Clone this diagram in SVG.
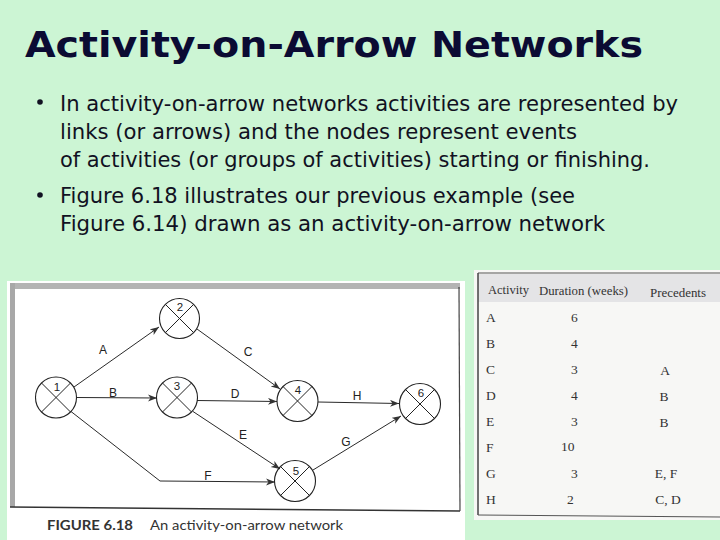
<svg xmlns="http://www.w3.org/2000/svg" width="720" height="540" viewBox="0 0 720 540">
<defs>
<style>
.title{font-family:"DejaVu Sans","Liberation Sans",sans-serif;font-weight:bold;font-size:36px;fill:#0b0b33}
.body{font-family:"DejaVu Sans","Liberation Sans",sans-serif;font-size:22px;fill:#111122}
.node circle{fill:none;stroke:#222;stroke-width:1.1}
.node line{stroke:#222;stroke-width:1}
.num{font-family:"Liberation Sans",Arial,sans-serif;font-size:11.5px;fill:#222;text-anchor:middle}
.edge{fill:none;stroke:#2a2a2a;stroke-width:1}
.elab{font-family:"Liberation Sans",Arial,sans-serif;font-size:12px;fill:#222;text-anchor:middle}
.cap{font-family:Lato,"Open Sans",sans-serif;fill:#333}
.tab{font-family:"Liberation Serif","Times New Roman",serif;font-size:13.5px;fill:#333}
</style>
<marker id="arr" markerWidth="10" markerHeight="8" refX="9" refY="3.5" orient="auto" markerUnits="userSpaceOnUse">
<path d="M0,0 L9,3.5 L0,7 L2.5,3.5 z" fill="#333"/>
</marker>
</defs>
<rect x="0" y="0" width="720" height="540" fill="#ccf5d4"/>

<text class="title" x="25" y="57" textLength="618" lengthAdjust="spacingAndGlyphs">Activity-on-Arrow Networks</text>

<g id="bullets">
<circle cx="40" cy="102" r="2.8" fill="#111122"/>
<text class="body" x="60" y="111" textLength="618" lengthAdjust="spacingAndGlyphs">In activity-on-arrow networks activities are represented by</text>
<text class="body" x="60" y="139" textLength="517" lengthAdjust="spacingAndGlyphs">links (or arrows) and the nodes represent events</text>
<text class="body" x="60" y="167" textLength="590" lengthAdjust="spacingAndGlyphs">of activities (or groups of activities) starting or finishing.</text>
<circle cx="40" cy="195" r="2.8" fill="#111122"/>
<text class="body" x="60" y="203" textLength="515" lengthAdjust="spacingAndGlyphs">Figure 6.18 illustrates our previous example (see</text>
<text class="body" x="60" y="231" textLength="545" lengthAdjust="spacingAndGlyphs">Figure 6.14) drawn as an activity-on-arrow network</text>
</g>

<g id="figure-panel">
<rect x="7" y="281" width="458" height="259" fill="#ffffff"/>
<rect x="10" y="283" width="450" height="6" fill="#b4b4b4"/>
<rect x="10" y="283" width="5" height="224" fill="#a8a8a8"/>
<line x1="10" y1="507" x2="460" y2="511" stroke="#333" stroke-width="1.5"/>
<line x1="459" y1="287" x2="460" y2="511" stroke="#444" stroke-width="1.2"/>
<text class="cap" x="47" y="530" font-size="13" font-weight="bold" textLength="86" lengthAdjust="spacingAndGlyphs">FIGURE 6.18</text>
<text class="cap" x="150" y="530" font-size="14" textLength="193" lengthAdjust="spacingAndGlyphs">An activity-on-arrow network</text>
</g>

<g id="connectors">
<path class="edge" d="M74,387 L159,327" marker-end="url(#arr)"/>
<path class="edge" d="M77,397.5 L157,398" marker-end="url(#arr)"/>
<path class="edge" d="M197,329 L280,389" marker-end="url(#arr)"/>
<path class="edge" d="M197,400.5 L277,401.5" marker-end="url(#arr)"/>
<path class="edge" d="M318,402 L399,403.5" marker-end="url(#arr)"/>
<path class="edge" d="M193,411.5 L280,469" marker-end="url(#arr)"/>
<path class="edge" d="M71,411.5 L160,481 L275,482" marker-end="url(#arr)"/>
<path class="edge" d="M313,470 L401,416" marker-end="url(#arr)"/>
<text class="elab" x="103" y="354">A</text>
<text class="elab" x="113" y="397">B</text>
<text class="elab" x="248" y="356">C</text>
<text class="elab" x="235" y="398">D</text>
<text class="elab" x="243" y="439">E</text>
<text class="elab" x="208" y="480">F</text>
<text class="elab" x="346" y="446">G</text>
<text class="elab" x="357" y="400">H</text>
</g>

<g id="node1" class="node"><circle cx="56" cy="397.5" r="20.5"/><line x1="41.5" y1="383" x2="70.5" y2="412"/><line x1="70.5" y1="383" x2="41.5" y2="412"/><text class="num" x="57" y="391">1</text></g>
<g id="node2" class="node"><circle cx="179.5" cy="318.5" r="20"/><line x1="165.4" y1="304.4" x2="193.6" y2="332.6"/><line x1="193.6" y1="304.4" x2="165.4" y2="332.6"/><text class="num" x="180" y="311">2</text></g>
<g id="node3" class="node"><circle cx="177" cy="397.5" r="20.5"/><line x1="162.5" y1="383" x2="191.5" y2="412"/><line x1="191.5" y1="383" x2="162.5" y2="412"/><text class="num" x="177" y="390">3</text></g>
<g id="node4" class="node"><circle cx="297.5" cy="401" r="20.5"/><line x1="283" y1="386.5" x2="312" y2="415.5"/><line x1="312" y1="386.5" x2="283" y2="415.5"/><text class="num" x="298" y="394">4</text></g>
<g id="node5" class="node"><circle cx="295" cy="481" r="20.5"/><line x1="280.5" y1="466.5" x2="309.5" y2="495.5"/><line x1="309.5" y1="466.5" x2="280.5" y2="495.5"/><text class="num" x="296" y="475">5</text></g>
<g id="node6" class="node"><circle cx="420" cy="404" r="20.5"/><line x1="405.5" y1="389.5" x2="434.5" y2="418.5"/><line x1="434.5" y1="389.5" x2="405.5" y2="418.5"/><text class="num" x="421" y="397">6</text></g>

<g id="table">
<rect x="474" y="270" width="246" height="250" fill="#f7f7f5"/>
<rect x="478" y="274" width="242" height="28" fill="#e4e4e6"/>
<line x1="478" y1="273" x2="720" y2="273" stroke="#555" stroke-width="1.2"/>
<line x1="478" y1="273" x2="478" y2="515" stroke="#444" stroke-width="1.5"/>
<line x1="478" y1="515" x2="720" y2="517" stroke="#555" stroke-width="1.2"/>
<text class="tab" x="488" y="294" font-size="12.5" textLength="41" lengthAdjust="spacingAndGlyphs">Activity</text>
<text class="tab" x="539" y="295" font-size="12.5" textLength="89" lengthAdjust="spacingAndGlyphs">Duration (weeks)</text>
<text class="tab" x="650" y="297" font-size="12.5" textLength="56" lengthAdjust="spacingAndGlyphs">Precedents</text>
<text class="tab" x="486" y="322">A</text><text class="tab" x="571" y="322">6</text>
<text class="tab" x="486" y="348">B</text><text class="tab" x="571" y="348">4</text>
<text class="tab" x="486" y="374">C</text><text class="tab" x="571" y="374">3</text><text class="tab" x="665" y="375" text-anchor="middle">A</text>
<text class="tab" x="486" y="400">D</text><text class="tab" x="571" y="400">4</text><text class="tab" x="664" y="401" text-anchor="middle">B</text>
<text class="tab" x="486" y="426">E</text><text class="tab" x="571" y="426">3</text><text class="tab" x="664" y="427" text-anchor="middle">B</text>
<text class="tab" x="486" y="452">F</text><text class="tab" x="561" y="451">10</text>
<text class="tab" x="486" y="478">G</text><text class="tab" x="571" y="478">3</text><text class="tab" x="666" y="478" text-anchor="middle">E, F</text>
<text class="tab" x="486" y="504">H</text><text class="tab" x="567" y="504">2</text><text class="tab" x="668" y="504" text-anchor="middle">C, D</text>
</g>
</svg>
